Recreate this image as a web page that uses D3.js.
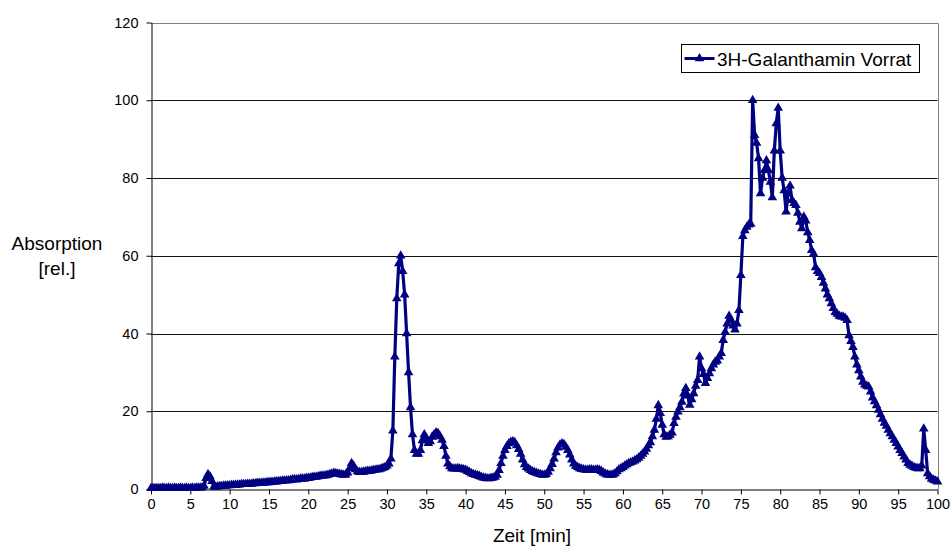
<!DOCTYPE html>
<html>
<head>
<meta charset="utf-8">
<script src="https://cdn.jsdelivr.net/npm/d3@7"></script>
<style>
  html, body { margin: 0; padding: 0; background: #fff; }
  svg { display: block; font-family: "Liberation Sans", Arial, sans-serif; }
</style>
</head>
<body>
<svg id="chart" width="952" height="546"></svg>
<script>
// Sampling interval of the chromatogram (minutes)
const sampleStep = 0.25;

// Relative absorption, one value per sample from 0 to 100 min
const absorption = [
  0.2,0.2,0.2,0.2,  0.2,0.2,0.3,0.2,  0.2,0.3,0.2,0.2,  0.3,0.2,0.2,0.3,
  0.2,0.2,0.3,0.2,  0.2,0.3,0.2,0.3,  0.3,0.3,0.4,0.8,  2.8,3.8,3.2,2.0,
  0.6,0.5,0.6,0.7,  0.7,0.8,0.8,0.9,  0.9,1.0,1.0,1.0,  1.1,1.1,1.2,1.2,
  1.2,1.3,1.3,1.3,  1.4,1.4,1.5,1.5,  1.5,1.6,1.6,1.7,  1.7,1.8,1.8,1.9,
  1.9,2.0,2.0,2.1,  2.1,2.2,2.2,2.3,  2.4,2.5,2.4,2.5,  2.6,2.7,2.6,2.8,
  2.8,2.9,3.0,3.1,  3.1,3.2,3.3,3.4,  3.4,3.5,3.6,3.8,  3.9,4.1,4.0,3.9,
  3.8,3.7,3.6,3.7,  4.2,5.3,6.6,6.0,  5.0,4.5,4.3,4.3,  4.4,4.5,4.6,4.6,
  4.7,4.8,4.9,5.0,  5.0,5.2,5.4,5.6,  6.0,6.5,7.8,15,   34,49,58,60,
  56,50,40,30,      21,14,10,9,       9.0,10,12.5,14,   13,11.8,12.2,13.4,
  14,14.5,14.3,13.5, 12.6,11,8.5,6.5, 5.8,5.3,5.2,5.2,  5.3,5.2,5.1,5.0,
  4.9,4.6,4.3,4.0,  3.8,3.6,3.5,3.3,  3.1,2.9,2.8,2.7,  2.7,2.8,2.9,3.1,
  3.6,4.8,6.6,8.5,  10,11,11.7,12.1,  12.2,12.0,11.2,10.2, 9.0,7.5,6.3,5.6,
  5.2,4.8,4.5,4.3,  4.1,3.9,3.8,3.6,  3.6,3.8,4.4,5.3,  6.4,7.8,9.4,10.6,
  11.4,11.7,11.5,10.8, 10.0,8.8,7.5,6.5, 5.9,5.6,5.3,5.1, 5.0,4.9,4.9,5.0,
  5.0,4.9,4.9,5.0,  4.9,4.6,4.2,3.9,  3.7,3.6,3.6,3.7,  4.0,4.5,5.0,5.3,
  5.6,6.0,6.3,6.6,  6.8,7.0,7.3,7.6,  8.0,8.5,9.0,9.6,  10.3,11.2,12.0,13.5,
  15.2,18,21.5,19.5, 16.5,14,13.4,13.5, 13.9,14.5,16.9,18.5, 19.9,21.0,22.4,24.5,
  25.9,24,21.6,23,  24.6,26.5,28,34,  31,29.5,27.2,28.5, 29.7,31,32,32.7,
  33,34,34.9,38.3,  40.4,42.5,44.5,43.5, 42,41,42.5,46, 55,65,66.5,67.4,
  68,68.2,100,91,   89,85,76,80,      82,84.5,82,79,    75,87,94,98,
  87,80,76.8,71.3,  76,78,74.3,73.5,  73,71,68.7,67,    70,69,66,64,
  61.4,60.5,57,56,  55.5,54.5,53,51.5, 50,49,47.7,46.5, 45.5,45,44.5,44.3,
  44.3,44,43.4,39.5, 38,36.5,34,32,   30.5,28.9,27.5,26.8, 26.5,26.3,25,23.5,
  22.5,21.5,20.3,19.2, 18,17,16.2,15.2, 14.3,13.5,12.6,11.8, 10.9,10,9.2,8.3,
  7.5,6.6,6.2,5.9,  5.6,5.4,5.3,5.3,  6,15.5,10,4,      3.2,2.6,2.3,2.1,
  1.9
];

const xTicks = d3.range(0, 101, 5);
const yTicks = [0, 20, 40, 60, 80, 100, 120];
const seriesName = "3H-Galanthamin Vorrat";
const xTitle = "Zeit [min]";
const yTitle = ["Absorption", "[rel.]"];

const series = absorption.map((v, i) => ({ t: i * sampleStep, v }));

const svg = d3.select("#chart");
const plot = { left: 151, top: 22.5, right: 937.5, bottom: 489 };
const navy = "#000080";
const font = "'Liberation Sans', Arial, sans-serif";

const x = d3.scaleLinear().domain([0, 100]).range([plot.left, plot.right]);
const y = d3.scaleLinear().domain([0, 120]).range([plot.bottom, plot.top]);

// Horizontal gridlines
svg.append("g")
  .selectAll("line")
  .data(yTicks.filter(d => d > 0 && d < 120))
  .join("line")
  .attr("x1", plot.left).attr("x2", plot.right)
  .attr("y1", d => Math.round(y(d)) + 0.5).attr("y2", d => Math.round(y(d)) + 0.5)
  .attr("stroke", "#111").attr("stroke-width", 1);

// Plot frame (top and right)
svg.append("path")
  .attr("d", `M${plot.left},${Math.round(plot.top) + 0.5}H${Math.round(plot.right) + 0.5}V${plot.bottom}`)
  .attr("fill", "none").attr("stroke", "#808080").attr("stroke-width", 1);

// Axes
const xAxis = svg.append("g")
  .attr("transform", `translate(0,${Math.round(plot.bottom) + 0.5})`)
  .call(d3.axisBottom(x).tickValues(xTicks).tickSize(5).tickPadding(4).tickSizeOuter(0));
const yAxis = svg.append("g")
  .attr("transform", `translate(${Math.round(plot.left) + 0.5},0)`)
  .call(d3.axisLeft(y).tickValues(yTicks).tickSize(5).tickPadding(8).tickSizeOuter(0));

[xAxis, yAxis].forEach(g => {
  g.selectAll("path.domain").attr("stroke", "#000");
  g.selectAll(".tick line").attr("stroke", "#000");
  g.selectAll(".tick text")
    .attr("font-family", font)
    .attr("font-size", 14.5).attr("fill", "#000");
});

// Series line
svg.append("path")
  .datum(series)
  .attr("fill", "none")
  .attr("stroke", navy)
  .attr("stroke-width", 3.2)
  .attr("stroke-linejoin", "round")
  .attr("d", d3.line().x(d => x(d.t)).y(d => y(d.v)));

// Triangle markers
const tri = d3.symbol().type(d3.symbolTriangle).size(40);
svg.append("g")
  .selectAll("path")
  .data(series)
  .join("path")
  .attr("d", tri)
  .attr("transform", d => `translate(${x(d.t)},${y(d.v)})`)
  .attr("fill", navy);

// Axis titles
svg.append("text")
  .attr("x", 532).attr("y", 542)
  .attr("text-anchor", "middle")
  .attr("font-family", font)
  .attr("font-size", 19).attr("fill", "#000")
  .text(xTitle);
svg.append("text")
  .attr("text-anchor", "middle")
  .attr("font-family", font)
  .attr("font-size", 19).attr("fill", "#000")
  .selectAll("tspan")
  .data(yTitle)
  .join("tspan")
  .attr("x", 57)
  .attr("y", (d, i) => i === 0 ? 250 : 275)
  .text(d => d);

// Legend
const legend = svg.append("g").attr("transform", "translate(681.5,44.5)");
legend.append("rect")
  .attr("width", 238).attr("height", 28)
  .attr("fill", "#fff").attr("stroke", "#000").attr("stroke-width", 1);
legend.append("line")
  .attr("x1", 3).attr("x2", 33).attr("y1", 14).attr("y2", 14)
  .attr("stroke", navy).attr("stroke-width", 3);
legend.append("path")
  .attr("d", tri)
  .attr("transform", "translate(18,14)")
  .attr("fill", navy);
legend.append("text")
  .attr("x", 35.5).attr("y", 21)
  .attr("font-family", font)
  .attr("font-size", 19).attr("fill", "#000")
  .text(seriesName);
</script>
</body>
</html>
